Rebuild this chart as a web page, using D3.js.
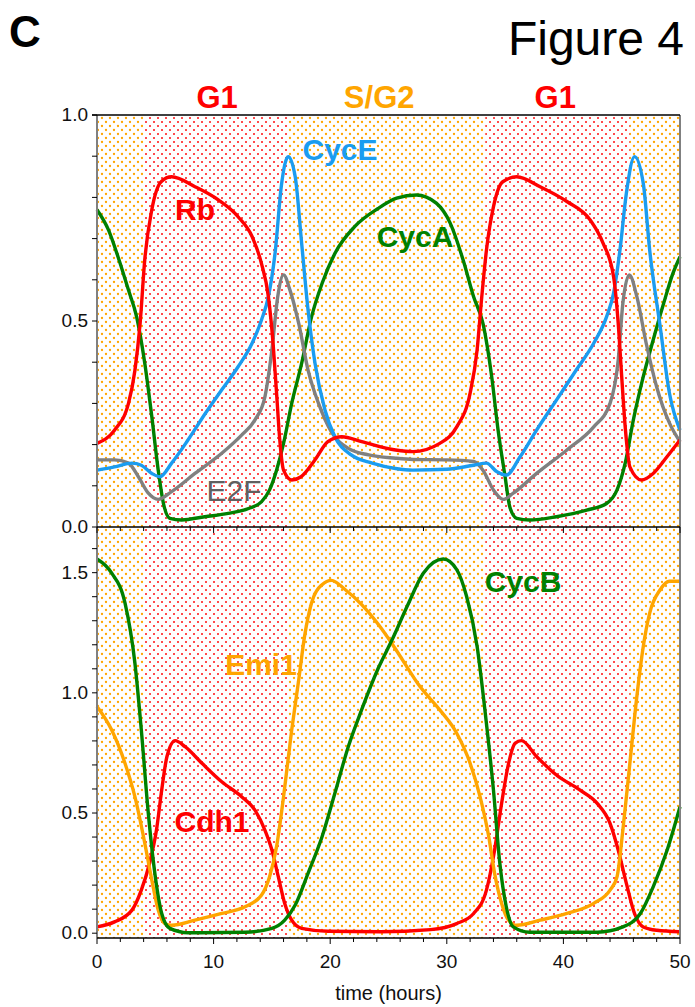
<!DOCTYPE html>
<html>
<head>
<meta charset="utf-8">
<script src="https://cdn.jsdelivr.net/npm/d3@7"></script>
<style>
  body { margin: 0; background: #fff; }
  text { font-family: "Liberation Sans", Arial, sans-serif; }
</style>
</head>
<body>
<div id="canvas"></div>
<script>
// phase boundaries (hours) and names
var phaseBreaks = [0, 4.0, 16.3, 33.3, 45.7, 50]
var phaseNames = ['S/G2', 'G1', 'S/G2', 'G1', 'S/G2']
var phaseLabels = ['G1', 'S/G2', 'G1']
var phaseLabelAt = [10.3, 24.2, 39.3]

// top panel series [time, level]
var rb = [[0,0.203],[1.5,0.235],[2.7,0.30],[3.25,0.38],[3.7,0.495],[4.1,0.65],[4.7,0.77],[5.5,0.838],[6.4,0.85],[8.4,0.826],[10.4,0.794],[12.1,0.753],[13.3,0.705],[14.1,0.64],[14.7,0.559],[15.1,0.446],[15.4,0.325],[15.7,0.203],[16.0,0.138],[16.7,0.114],[17.5,0.122],[18.7,0.163],[19.8,0.207],[21.0,0.219],[22.7,0.207],[25.6,0.187],[27.1,0.183],[29.4,0.203],[30.85,0.243],[32.0,0.325],[32.6,0.43],[33.0,0.559],[33.4,0.672],[34.0,0.777],[34.8,0.838],[36.0,0.85],[38.0,0.826],[40.3,0.79],[42.3,0.745],[43.4,0.689],[44.3,0.608],[44.7,0.495],[45.0,0.365],[45.3,0.243],[45.7,0.146],[46.7,0.114],[47.7,0.130],[48.9,0.171],[50,0.211]]
var cycE = [[0,0.138],[1.5,0.146],[3.0,0.155],[3.8,0.150],[4.7,0.130],[5.4,0.122],[6.4,0.155],[7.8,0.211],[9.3,0.276],[10.7,0.333],[12.1,0.389],[13.3,0.446],[14.1,0.502],[14.7,0.559],[15.3,0.672],[15.8,0.826],[16.4,0.899],[17.0,0.85],[17.55,0.689],[18.1,0.527],[18.7,0.397],[19.55,0.284],[20.4,0.219],[21.8,0.175],[23.6,0.155],[25.6,0.142],[27.1,0.138],[30.0,0.140],[32.3,0.150],[33.4,0.155],[34.3,0.134],[35.1,0.126],[36.3,0.171],[37.7,0.235],[39.4,0.308],[41.1,0.381],[42.6,0.446],[43.7,0.51],[44.3,0.567],[44.85,0.672],[45.4,0.81],[46.1,0.899],[46.85,0.834],[47.4,0.672],[48.3,0.486],[49.1,0.324],[50,0.235]]
var cycA = [[0,0.77],[1.0,0.72],[1.8,0.656],[2.7,0.575],[3.4,0.51],[4.1,0.397],[4.7,0.268],[5.25,0.138],[5.7,0.057],[6.25,0.021],[7.25,0.017],[9.25,0.025],[11.25,0.033],[13.0,0.045],[14.1,0.061],[14.8,0.09],[15.4,0.138],[16.0,0.203],[16.7,0.30],[17.55,0.397],[18.4,0.51],[19.3,0.591],[20.4,0.664],[22.1,0.729],[24.1,0.773],[25.7,0.798],[27.4,0.806],[29.1,0.786],[30.3,0.737],[31.4,0.648],[32.3,0.559],[33.1,0.494],[33.85,0.365],[34.4,0.235],[35.0,0.122],[35.4,0.049],[36.0,0.021],[37.1,0.017],[39.4,0.025],[42.0,0.041],[43.7,0.057],[44.6,0.09],[45.3,0.155],[46.0,0.26],[46.85,0.365],[47.7,0.454],[48.6,0.543],[49.4,0.616],[50,0.656]]
var e2f = [[0,0.163],[1.5,0.163],[2.7,0.155],[3.55,0.122],[4.4,0.082],[5.25,0.067],[6.4,0.086],[8.4,0.130],[10.7,0.179],[12.4,0.223],[13.55,0.26],[14.4,0.316],[15.0,0.43],[15.5,0.559],[16.0,0.612],[16.55,0.575],[17.3,0.494],[18.1,0.381],[19.0,0.30],[20.1,0.231],[21.55,0.191],[23.3,0.175],[25.6,0.167],[27.1,0.164],[30.0,0.163],[32.3,0.159],[33.1,0.138],[34.0,0.09],[34.85,0.067],[35.7,0.082],[37.7,0.130],[40.3,0.187],[42.6,0.243],[44.0,0.30],[44.7,0.405],[45.1,0.543],[45.65,0.612],[46.3,0.559],[47.1,0.446],[48.0,0.34],[49.1,0.252],[50,0.207]]

// bottom panel series
var cycB = [[0,1.557],[1.25,1.499],[2.4,1.374],[3.25,1.124],[3.8,0.846],[4.4,0.499],[5.0,0.235],[5.55,0.082],[6.25,0.020],[7.8,0.002],[12.7,0.004],[15.0,0.02],[16.1,0.054],[17.0,0.117],[18.1,0.249],[19.3,0.401],[20.4,0.582],[21.55,0.776],[22.7,0.93],[24.1,1.10],[25.4,1.23],[26.6,1.36],[28.0,1.499],[29.7,1.557],[30.85,1.513],[31.7,1.401],[32.6,1.193],[33.3,0.915],[34.0,0.596],[34.55,0.29],[35.1,0.11],[35.7,0.026],[37.1,0.004],[42.9,0.004],[45.1,0.026],[46.6,0.082],[47.7,0.193],[48.9,0.346],[50,0.526]]
var emi1 = [[0,0.943],[1.25,0.846],[2.4,0.707],[3.25,0.568],[4.1,0.374],[4.7,0.221],[5.25,0.096],[5.8,0.04],[6.4,0.033],[8.4,0.054],[10.7,0.082],[12.7,0.11],[14.1,0.158],[14.8,0.235],[15.4,0.36],[16.0,0.568],[16.7,0.846],[17.3,1.054],[17.8,1.235],[18.4,1.374],[19.3,1.45],[20.1,1.468],[21.3,1.429],[22.7,1.367],[24.2,1.28],[25.5,1.19],[27.7,1.026],[29.4,0.929],[30.85,0.832],[32.0,0.707],[32.85,0.568],[33.6,0.401],[34.1,0.249],[34.7,0.124],[35.3,0.054],[36.0,0.033],[38.0,0.054],[40.3,0.082],[42.6,0.124],[44.0,0.179],[44.6,0.235],[45.1,0.429],[45.7,0.707],[46.3,0.985],[46.85,1.193],[47.4,1.332],[48.3,1.429],[49.1,1.464],[50,1.464]]
var cdh1 = [[0,0.026],[1.5,0.047],[3.0,0.096],[3.8,0.179],[4.5,0.29],[5.1,0.429],[5.55,0.596],[6.0,0.735],[6.7,0.801],[7.55,0.776],[9.0,0.707],[10.7,0.63],[12.4,0.568],[13.55,0.512],[14.4,0.429],[15.0,0.346],[15.55,0.235],[16.1,0.124],[16.7,0.054],[17.55,0.02],[19.8,0.008],[24.3,0.006],[28.6,0.015],[30.85,0.04],[32.3,0.082],[33.4,0.179],[34.1,0.346],[34.7,0.54],[35.3,0.707],[35.85,0.79],[36.4,0.801],[37.7,0.735],[39.4,0.658],[41.4,0.596],[42.9,0.54],[44.0,0.457],[44.7,0.346],[45.4,0.207],[46.1,0.082],[46.85,0.026],[48.0,0.012],[50,0.006]]

var xTicks = [0, 10, 20, 30, 40, 50]
var topTicks = [0, 0.5, 1.0]
var botTicks = [0, 0.5, 1.0, 1.5]

var W = 695, H = 1007
var svg = d3.select('#canvas').append('svg')
  .attr('width', W).attr('height', H)

var x = d3.scaleLinear().domain([0, 50]).range([97, 680])
var yTop = d3.scaleLinear().domain([0, 1]).range([527, 115])
var yBot = d3.scaleLinear().domain([-0.02, 1.69]).range([938, 527])

var defs = svg.append('defs')
function dots(id, color, r) {
  var p = defs.append('pattern').attr('id', id)
    .attr('patternUnits', 'userSpaceOnUse').attr('width', 8).attr('height', 8)
  p.append('rect').attr('width', 8).attr('height', 8).attr('fill', '#fff')
  ;[[2, 2], [6, 6]].forEach(function (c) {
    p.append('circle').attr('cx', c[0]).attr('cy', c[1]).attr('r', r).attr('fill', color)
  })
}
dots('dotO', '#ffa500', 1.15)
dots('dotR', '#ff1010', 1.0)

var phases = phaseNames.map(function (n, i) { return {name: n, a: phaseBreaks[i], b: phaseBreaks[i + 1]} })

svg.append('g').selectAll('rect')
  .data(phases)
  .enter().append('rect')
    .attr('x', d => x(d.a))
    .attr('width', d => x(d.b) - x(d.a))
    .attr('y', yTop(1))
    .attr('height', yBot.range()[0] - yTop(1))
    .attr('fill', d => d.name === 'G1' ? 'url(#dotR)' : 'url(#dotO)')

// phase labels above the plot
svg.append('g').selectAll('text')
  .data(phaseLabels)
  .enter().append('text')
    .attr('x', (d, i) => x(phaseLabelAt[i]))
    .attr('y', 108)
    .attr('text-anchor', 'middle')
    .attr('font-size', 31).attr('font-weight', 'bold')
    .attr('fill', d => d === 'G1' ? '#ff0000' : '#ffa500')
    .text(d => d)

function draw(data, y, color) {
  var line = d3.line().x(d => x(d[0])).y(d => y(d[1])).curve(d3.curveMonotoneX)
  svg.append('path').datum(data)
    .attr('d', line)
    .attr('fill', 'none')
    .attr('stroke', color)
    .attr('stroke-width', 3.4)
    .attr('stroke-linejoin', 'round')
}
draw(cycA, yTop, '#008000')
draw(e2f, yTop, '#808080')
draw(cycE, yTop, '#1a9cf0')
draw(rb, yTop, '#ff0000')
draw(cdh1, yBot, '#ff0000')
draw(emi1, yBot, '#ffa500')
draw(cycB, yBot, '#008000')

// frame
svg.append('line').attr('x1', x(0)).attr('x2', x(0)).attr('y1', yTop(1)).attr('y2', yBot.range()[0])
  .attr('stroke', '#808080').attr('stroke-width', 2)
svg.append('line').attr('x1', x(50)).attr('x2', x(50)).attr('y1', yTop(1)).attr('y2', yBot.range()[0])
  .attr('stroke', '#808080').attr('stroke-width', 2)
svg.append('line').attr('x1', x(0) - 5).attr('x2', x(50)).attr('y1', yTop(1)).attr('y2', yTop(1))
  .attr('stroke', '#000').attr('stroke-width', 1.5)

// x axes (middle and bottom)
function xAxis(yPos, labels) {
  var g = svg.append('g')
  g.append('line').attr('x1', x(0)).attr('x2', x(50)).attr('y1', yPos).attr('y2', yPos)
    .attr('stroke', '#000').attr('stroke-width', 1.5)
  g.selectAll('.tk').data(d3.range(0, 51, 2))
    .enter().append('line')
      .attr('x1', d => x(d)).attr('x2', d => x(d))
      .attr('y1', yPos).attr('y2', d => yPos + (d % 10 === 0 ? 6 : 4))
      .attr('stroke', '#000').attr('stroke-width', 1)
  if (labels) {
    g.selectAll('text').data(xTicks)
      .enter().append('text')
        .attr('x', d => x(d)).attr('y', yPos + 30)
        .attr('text-anchor', 'middle').attr('font-size', 19).attr('fill', '#111')
        .text(d => d)
  }
}
xAxis(yTop(0), false)
xAxis(yBot.range()[0], true)

// y axes
function yAxis(y, max, labels) {
  var g = svg.append('g')
  g.selectAll('line').data(d3.range(0, max + 0.001, 0.1))
    .enter().append('line')
      .attr('x1', x(0) - 5).attr('x2', x(0))
      .attr('y1', d => y(d)).attr('y2', d => y(d))
      .attr('stroke', '#000').attr('stroke-width', 1)
  g.selectAll('text').data(labels)
    .enter().append('text')
      .attr('x', x(0) - 9).attr('y', d => y(d) + 6)
      .attr('text-anchor', 'end').attr('font-size', 19).attr('fill', '#111')
      .text(d => d.toFixed(1))
}
yAxis(yTop, 1.0, topTicks)
yAxis(yBot, 1.6, botTicks)

svg.append('text').attr('x', x(25)).attr('y', 1000)
  .attr('text-anchor', 'middle').attr('font-size', 20).attr('fill', '#111')
  .text('time (hours)')

// series labels
var labels = [
  {t: 'CycE', x: 340, y: 160, c: '#1a9cf0', b: true},
  {t: 'Rb', x: 195, y: 220, c: '#ff0000', b: true},
  {t: 'CycA', x: 415, y: 247, c: '#008000', b: true},
  {t: 'E2F', x: 234, y: 501, c: '#606060', b: false},
  {t: 'CycB', x: 523, y: 592, c: '#008000', b: true},
  {t: 'Emi1', x: 261, y: 675, c: '#ffa500', b: true},
  {t: 'Cdh1', x: 212, y: 832, c: '#ff0000', b: true}
]
svg.append('g').selectAll('text').data(labels)
  .enter().append('text')
    .attr('x', d => d.x).attr('y', d => d.y)
    .attr('text-anchor', 'middle').attr('font-size', 30)
    .attr('font-weight', d => d.b ? 'bold' : 'normal')
    .attr('fill', d => d.c)
    .text(d => d.t)

svg.append('text').attr('x', 9).attr('y', 47)
  .attr('font-size', 44).attr('font-weight', 'bold').text('C')
svg.append('text').attr('x', 684).attr('y', 55)
  .attr('text-anchor', 'end').attr('font-size', 48).text('Figure 4')
</script>
</body>
</html>
